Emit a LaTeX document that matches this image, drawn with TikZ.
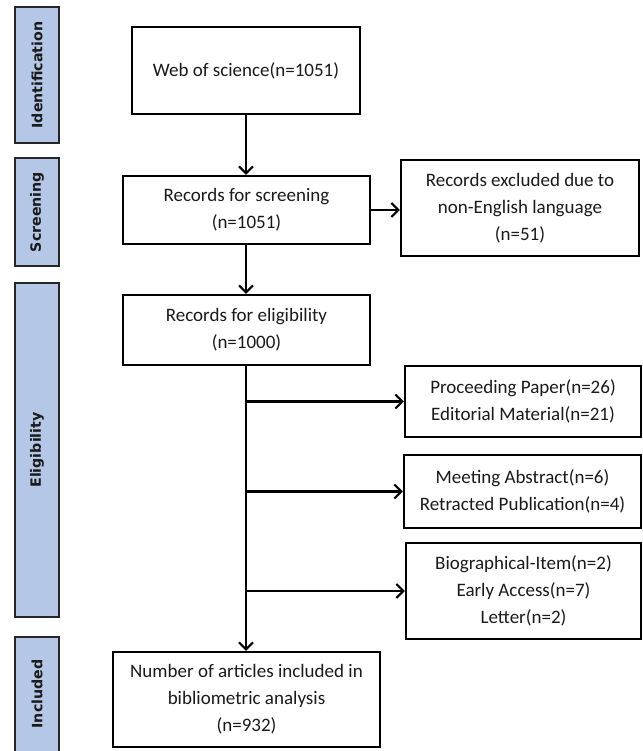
\documentclass[tikz,border=0pt]{standalone}
\usepackage{fontspec}
\setmainfont{Carlito}
\newfontfamily\sidefont{DejaVu Sans}
\usetikzlibrary{arrows.meta}
\definecolor{barblue}{HTML}{B4C7E7}
\definecolor{txt}{HTML}{1A1A1A}
\begin{document}
\begin{tikzpicture}[x=1pt,y=-1pt,
  box/.style={draw=black,line width=2.1pt,align=center,text=txt,font=\fontsize{19}{27}\selectfont,inner sep=0pt},
  bar/.style={draw=black!85,line width=2.8pt,fill=barblue},
  sidelabel/.style={rotate=90,font=\sidefont\bfseries\fontsize{14.2}{16}\selectfont,text=txt},
  arr/.style={line width=2.1pt,-{Straight Barb[length=7pt,width=14pt,line width=2.1pt]}}]
\useasboundingbox (0,0) rectangle (642,751);
% side bars
\draw[bar] (15,7) rectangle (59,143);
\draw[bar] (15,158) rectangle (59,266);
\draw[bar] (15,283) rectangle (59,617);
\draw[bar] (15,637) rectangle (59,760);
\node[sidelabel] (lid) at (37,75) {Identification};
\node[sidelabel] (lsc) at (37,212) {Screening};
\node[sidelabel] (lel) at (37,450) {Eligibility};
\node[sidelabel] (lin) at (37,694) {Included};
% boxes
\node[box,minimum width=228pt,minimum height=87pt] (web) at (246,70.5) {Web of science(n=1051)};
\node[box,minimum width=247pt,minimum height=68pt] (scr) at (246.5,210) {Records for screening\\(n=1051)};
\node[box,minimum width=238pt,minimum height=96pt] (exc) at (520,208) {Records excluded due to\\non-English language\\(n=51)};
\node[box,minimum width=247pt,minimum height=70pt] (eli) at (246.5,330) {Records for eligibility\\(n=1000)};
\node[box,minimum width=236pt,minimum height=71pt] (pro) at (523,401.5) {Proceeding Paper(n=26)\\Editorial Material(n=21)};
\node[box,minimum width=237pt,minimum height=73pt] (mee) at (522.5,491.5) {Meeting Abstract(n=6)\\Retracted Publication(n=4)};
\node[box,minimum width=235pt,minimum height=96pt] (bio) at (523.5,591) {Biographical-Item(n=2)\\Early Access(n=7)\\Letter(n=2)};
\node[box,minimum width=267pt,minimum height=95pt] (num) at (246.5,699.5) {Number of articles included in\\bibliometric analysis\\(n=932)};
% connectors
\draw[arr] (web.south -| 246,0) -- (scr.north -| 246,0);
\draw[arr] (scr.east) -- (exc.west |- scr.east);
\draw[arr] (scr.south -| 246,0) -- (eli.north -| 246,0);
\draw[arr] (eli.south -| 246,0) -- (num.north -| 246,0);
\draw[arr] (pro.west -| 246,0) -- (pro.west);
\draw[arr] (mee.west -| 246,0) -- (mee.west);
\draw[arr] (bio.west -| 246,0) -- (bio.west);
\end{tikzpicture}
\end{document}
